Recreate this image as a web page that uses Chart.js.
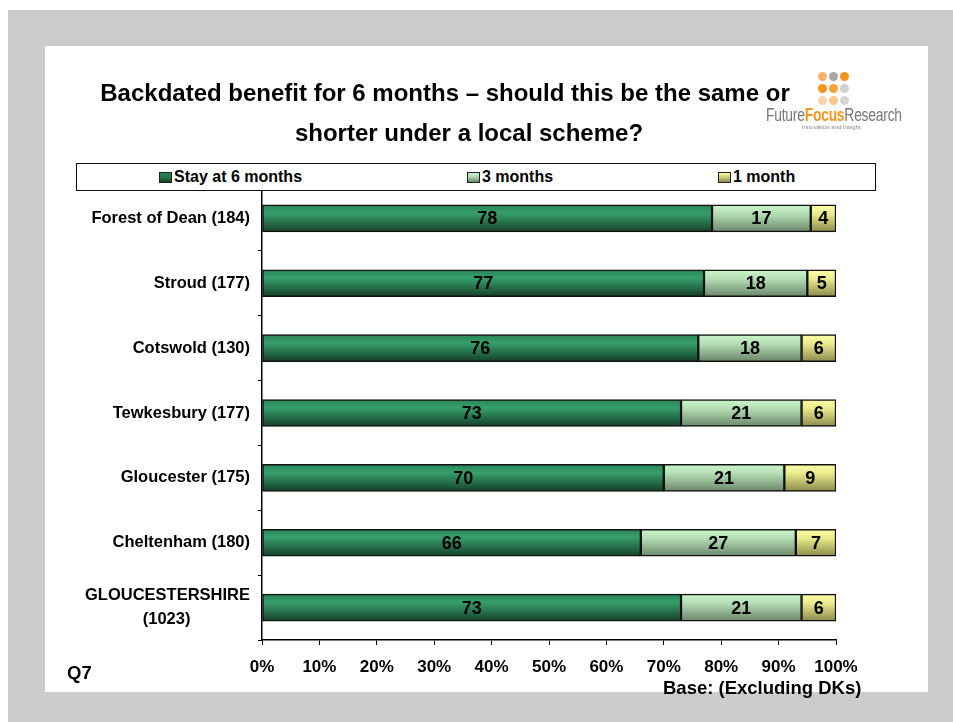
<!DOCTYPE html>
<html>
<head>
<meta charset="utf-8">
<script src="https://cdn.jsdelivr.net/npm/chart.js@4.4.1/dist/chart.umd.min.js"></script>
<style>
  body { margin: 0; background: #fff; font-family: "Liberation Sans", Arial, sans-serif; }
  #frame { position: absolute; left: 8px; top: 10px; width: 945px; height: 712px; background: #cccccc; }
  #panel { position: absolute; left: 45px; top: 46px; width: 883px; height: 646px; background: #fff; }
  #chart { position: absolute; left: 45px; top: 46px; }
  .title { position: absolute; width: 800px; text-align: center; font-weight: bold; font-size: 24px; line-height: 28px; color: #000; }
  #legend { position: absolute; left: 76px; top: 163px; width: 800px; height: 28px; box-sizing: border-box;
            border: 1.5px solid #111; background: #fff; z-index: 2; }
  .item { position: absolute; top: 4px; font-weight: bold; font-size: 16px; line-height: 17px; white-space: nowrap; }
  .item span.sw { display: inline-block; width: 11px; height: 9px; border: 1px solid #222; margin-right: 2px; vertical-align: -1px; }
  .note { position: absolute; font-weight: bold; font-size: 18.5px; line-height: 20px; color: #000; white-space: nowrap; }
  #logo { position: absolute; left: 760px; top: 68px; width: 150px; height: 70px; }
  #logo i { position: absolute; width: 9px; height: 9px; border-radius: 50%; }
  #logo .name { position: absolute; left: 6px; top: 37px; font-size: 18px; color: #777; white-space: nowrap;
                transform: scaleX(0.77); transform-origin: left center; letter-spacing: -0.3px; }
  #logo .name b { color: #f7941d; }
  #logo .tag { position: absolute; left: 42px; top: 56px; font-size: 6px; color: #888; white-space: nowrap; }
</style>
</head>
<body>
<div id="frame"></div>
<div id="panel"></div>
<canvas id="chart" width="883" height="646"></canvas>

<div class="title" style="left:45px; top:79px;">Backdated benefit for 6 months – should this be the same or</div>
<div class="title" style="left:69px; top:119px;">shorter under a local scheme?</div>

<div id="logo">
  <i style="left:58px; top:4px; background:#f9b26a"></i>
  <i style="left:69px; top:4px; background:#a6a6a6"></i>
  <i style="left:80px; top:4px; background:#f7941d"></i>
  <i style="left:58px; top:16px; background:#f7941d"></i>
  <i style="left:69px; top:16px; background:#f9a23c"></i>
  <i style="left:80px; top:16px; background:#cfcfcf"></i>
  <i style="left:58px; top:28px; background:#fbd3a8"></i>
  <i style="left:69px; top:28px; background:#fbc58c"></i>
  <i style="left:80px; top:28px; background:#d6d6d6"></i>
  <div class="name">Future<b>Focus</b>Research</div>
  <div class="tag">Innovation and Insight</div>
</div>

<div id="legend"></div>

<div class="note" style="left:67px; top:663px;">Q7</div>
<div class="note" style="left:663px; top:678px;">Base: (Excluding DKs)</div>

<script>
// Data (Forest of Dean segments, labels show the rounded figures)
const categories = [
  "Forest of Dean (184)",
  "Stroud (177)",
  "Cotswold (130)",
  "Tewkesbury (177)",
  "Gloucester (175)",
  "Cheltenham (180)",
  ["GLOUCESTERSHIRE", "(1023)"]
];
const seriesNames = ["Stay at 6 months", "3 months", "1 month"];
const stay6 = [78.4, 77, 76, 73, 70, 66, 73];
const three = [17.2, 18, 18, 21, 21, 27, 21];
const one = [4.4, 5, 6, 6, 9, 7, 6];
const xTicks = [0, 10, 20, 30, 40, 50, 60, 70, 80, 90, 100];

// Styles
const fontFamily = '"Liberation Sans", Arial, sans-serif';
const fills = [
  [[0, "#2a8257"], [0.3, "#36a06b"], [1, "#163f2a"]],
  [[0, "#cbf7cb"], [0.35, "#b3dcb3"], [1, "#6a856a"]],
  [[0, "#ffffa6"], [0.35, "#e8e88c"], [1, "#8a8a4c"]]
];
const swatch = ["#25744c", "#a9cfa9", "#c9c976"];
const BAR_H = 27;

const barFill = (stops) => (ctx) => {
  const yScale = ctx.chart.scales.y;
  if (!yScale || ctx.dataIndex === undefined) return stops[1][1];
  const c = yScale.getPixelForValue(ctx.dataIndex);
  if (!Number.isFinite(c)) return stops[1][1];
  const g = ctx.chart.ctx.createLinearGradient(0, c - BAR_H / 2, 0, c + BAR_H / 2);
  stops.forEach(([o, col]) => g.addColorStop(o, col));
  return g;
};

// Legend (html)
const legend = document.getElementById("legend");
const legendX = [82, 390, 641];
seriesNames.forEach((name, i) => {
  const el = document.createElement("div");
  el.className = "item";
  el.style.left = legendX[i] + "px";
  el.innerHTML = `<span class="sw" style="background:linear-gradient(${fills[i][0][1]}, ${swatch[i]} 50%, ${fills[i][2][1]})"></span>${name}`;
  legend.appendChild(el);
});

// Value labels in the middle of each segment
const valueLabels = {
  id: "valueLabels",
  afterDatasetsDraw(chart) {
    const ctx = chart.ctx;
    ctx.save();
    ctx.font = `bold 18px ${fontFamily}`;
    ctx.fillStyle = "#000";
    ctx.textAlign = "center";
    ctx.textBaseline = "middle";
    chart.data.datasets.forEach((ds, di) => {
      chart.getDatasetMeta(di).data.forEach((bar, i) => {
        ctx.fillText(Math.round(ds.data[i]), (bar.x + bar.base) / 2, bar.y + 1);
      });
    });
    ctx.restore();
  }
};

const datasets = [stay6, three, one].map((vals, i) => ({
  label: seriesNames[i],
  data: vals,
  backgroundColor: barFill(fills[i]),
  borderColor: "#111",
  borderWidth: 1.5,
  borderSkipped: false,
  barThickness: BAR_H
}));

new Chart(document.getElementById("chart"), {
  type: "bar",
  data: { labels: categories, datasets },
  plugins: [valueLabels],
  options: {
    indexAxis: "y",
    responsive: false,
    animation: false,
    layout: { padding: { left: 0, right: 92, top: 140, bottom: 12 } },
    plugins: { legend: { display: false }, tooltip: { enabled: false } },
    scales: {
      x: {
        stacked: true,
        min: 0,
        max: 100,
        afterBuildTicks: (scale) => { scale.ticks = xTicks.map(v => ({ value: v })); },
        afterFit: (scale) => { scale.height = 40; },
        ticks: {
          callback: (v) => v + "%",
          color: "#000",
          padding: 12,
          maxRotation: 0,
          font: { family: fontFamily, size: 17, weight: "bold" }
        },
        grid: { drawOnChartArea: false, drawTicks: true, tickLength: 5, color: "#000" },
        border: { color: "#000", width: 1.5 }
      },
      y: {
        stacked: true,
        afterFit: (scale) => { scale.width = 217; },
        ticks: {
          color: "#000",
          padding: 8,
          font: { family: fontFamily, size: 16.5, weight: "bold", lineHeight: 1.45 },
          callback: function (value) {
            const lab = this.getLabelForValue(value);
            return Array.isArray(lab) ? [lab[0], lab[1] + "\u00a0".repeat(13)] : lab;
          }
        },
        grid: { drawOnChartArea: false, drawTicks: true, tickLength: 4, color: "#000", offset: true },
        border: { color: "#000", width: 1.5 }
      }
    }
  }
});
</script>
</body>
</html>
